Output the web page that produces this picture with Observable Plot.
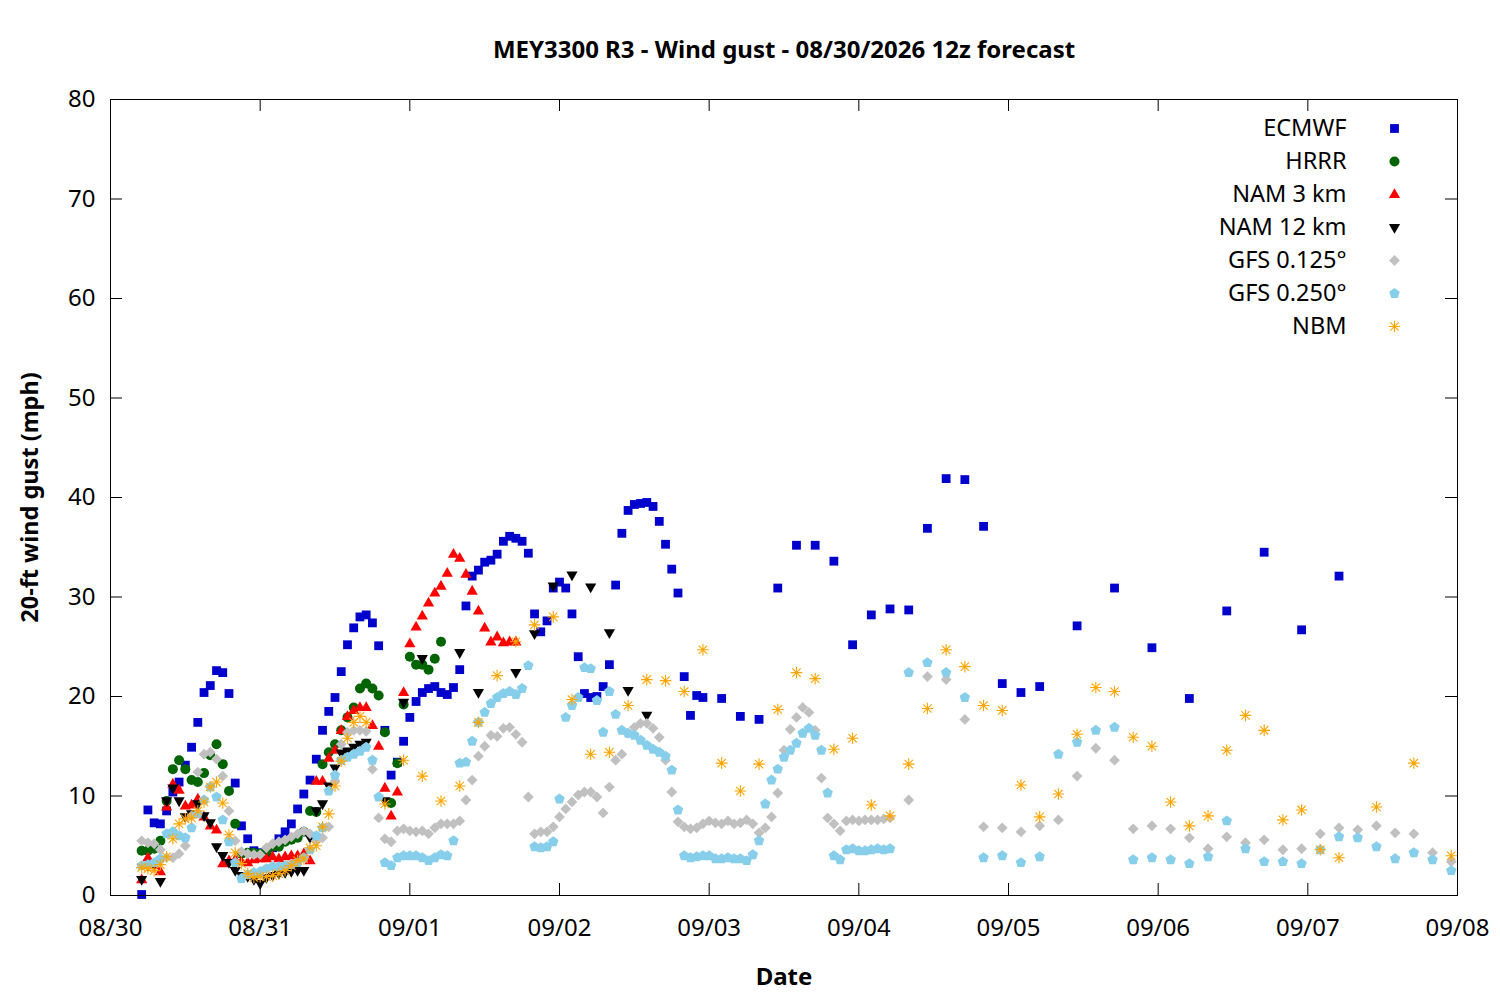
<!DOCTYPE html>
<html><head><meta charset="utf-8">
<script src="https://cdn.jsdelivr.net/npm/d3@7"></script>
<script src="https://cdn.jsdelivr.net/npm/@observablehq/plot@0.6"></script>
<style>body{margin:0;background:#fff;} svg{font-family:"Noto Sans",sans-serif;}</style>
</head><body><div id="chart"></div>
<script>
// ---- text ----
const titleText = "MEY3300 R3 - Wind gust - 08/30/2026 12z forecast";
const xLabel = "Date";
const yLabel = "20-ft wind gust (mph)";
const xTickLabels = ["08/30","08/31","09/01","09/02","09/03","09/04","09/05","09/06","09/07","09/08"];
const yTicks = [0,10,20,30,40,50,60,70,80];
const models = ["ECMWF","HRRR","NAM 3 km","NAM 12 km","GFS 0.125°","GFS 0.250°","NBM"];
const colors = ["#0000cd","#006400","#ff0000","#000000","#c0c0c0","#87ceeb","#ffa500"];

// ---- values (mph); times are local hours after 08/30 00:00 (first = 05:00 = 12z) ----
const ecmwf1h = [0.1,8.6,7.3,7.2,8.5,10.4,11.4,13.1,14.9,17.4,
 20.4,21.1,22.6,22.4,20.3,11.3,7.0,5.7,4.5,4.3,
 4.2,4.8,5.7,6.4,7.2,8.7,10.2,11.6,13.7,16.6,
 18.5,19.9,22.5,25.2,26.9,28.0,28.2,27.4,25.1,16.6,
 12.1,13.4,15.5,17.9,19.5,20.4,20.8,21.0,20.4,20.2,
 20.9,22.7,29.1,32.1,32.7,33.5,33.7,34.3,35.6,36.1,
 35.9,35.6,34.4,28.3,26.5,27.6,30.9,31.5,30.9,28.3,
 24.0,20.3,19.9,20.0,21.0,23.2,31.2,36.4,38.7,39.3,
 39.4,39.5,39.1,37.6,35.3,32.8,30.4,22.0,18.1,20.1,
 19.9];
const ecmwf3h = [19.8,18.0,17.7,30.9,35.2,35.2,33.6,25.2,28.2,28.8,28.7,36.9,41.9,41.8,37.1,21.3,20.4,21.0];
const ecmwf6h = [27.1,30.9,24.9,19.8,28.6,34.5,26.7,32.1];

const hrrr1h = [4.5,4.5,4.7,5.5,9.5,12.7,13.6,12.7,11.6,11.4,
 12.3,14.1,15.2,13.2,10.5,7.2,4.2,4.3,4.3,4.2,
 4.4,4.9,4.9,5.4,5.6,5.8,6.4,8.5,8.4,13.2,
 14.4,15.2,16.6,17.9,18.9,20.8,21.3,20.8,20.1,16.4,
 9.3,13.3,19.2,24.0,23.2,23.2,22.7,23.8,25.5];

const nam3_1h = [1.6,3.8,3.0,2.4,8.9,11.2,10.6,9.0,9.1,9.7,
 7.9,7.0,6.6,3.2,3.5,3.6,3.4,3.3,3.6,3.7,
 3.7,3.9,3.7,3.9,4.0,4.0,4.2,3.5,11.5,11.5,
 13.8,14.6,16.6,18.0,18.6,18.9,18.9,17.1,15.0,10.8,
 8.0,10.4,20.4,25.3,27.0,28.1,29.4,30.4,31.1,32.4,
 34.3,33.9,32.3,30.6,28.6,26.9,25.5,26.0,25.4,25.5,25.5];

const nam12_1h = [1.6,3.0,3.2,1.4,9.5,10.8,9.5,7.9,8.2,9.2,
 8.0,7.3,4.9,4.0,3.3,2.5,2.0,1.9,1.6,1.2,
 1.8,2.0,2.2,2.3,2.4,2.5,2.5,5.8,8.5,9.2,
 11.0,12.8,14.3,14.5,14.9,15.2,15.4];
const nam12_3h = [9.5,19.4,23.8,null,24.4,20.4,null,22.4,26.3,31.1,32.2,31.0,26.4,20.6,18.1];

const gfs125_1h = [5.5,5.3,5.2,4.6,3.8,3.8,4.2,5.0,8.0,12.4,
 14.2,14.4,13.7,12.0,8.5,5.5,4.4,4.2,4.1,4.1,
 4.8,5.2,5.4,5.6,5.9,6.2,6.5,6.2,5.5,5.8,
 6.9,11.5,15.2,16.4,16.6,16.6,16.5,12.7,7.8,5.7,
 5.4,6.5,6.7,6.5,6.4,6.5,6.2,6.8,7.2,7.2,
 7.2,7.5,9.6,11.6,14.0,15.0,16.1,16.0,16.8,16.9,
 16.2,15.4,9.9,6.2,6.4,6.4,6.9,7.9,8.7,9.4,
 10.1,10.4,10.4,9.9,8.3,10.9,13.6,14.2,16.3,16.9,
 17.3,17.3,16.8,15.9,13.6,10.4,7.4,6.9,6.7,6.8,
 7.2,7.5,7.3,7.2,7.5,7.2,7.3,7.6,7.2,6.3,
 6.8,7.9,10.3,14.6,16.7,17.9,18.9,18.4,16.6,11.8,
 7.8,7.2,6.5,7.5,7.6,7.5,7.6,7.6,7.6,7.7,7.8];
const gfs125_3h = [9.6,22.0,21.7,17.7,6.9,6.8,6.4,7.0,7.6,12.0,
 14.8,13.6,6.7,7.0,6.7,5.8,4.7,5.9,5.3,5.6,
 4.6,4.7,6.2,6.8,6.6,7.0,6.3,6.2,4.3,3.4];

const gfs250_1h = [3.0,3.1,3.3,3.7,6.2,6.4,6.0,5.8,6.8,8.2,
 9.6,10.9,9.9,7.6,5.4,3.3,1.7,2.1,2.3,2.4,
 2.7,2.9,2.9,3.0,3.1,3.3,3.8,4.6,6.0,6.8,
 10.5,12.1,13.6,13.9,14.2,14.5,14.9,13.6,9.9,3.3,
 3.0,3.8,4.0,4.0,4.0,3.8,3.5,3.8,4.1,4.0,
 5.5,13.3,13.4,15.5,17.4,18.4,19.3,19.9,20.3,20.5,
 20.2,20.8,23.1,4.9,4.8,4.9,5.4,9.7,17.9,19.1,
 19.9,22.9,22.8,19.6,16.4,20.5,18.2,16.6,16.3,16.1,
 15.6,15.1,14.7,14.4,14.0,12.6,8.6,4.0,3.8,3.9,
 4.0,4.0,3.7,3.7,3.8,3.7,3.7,3.5,4.1,5.5,
 9.2,11.6,12.7,13.9,14.6,15.3,16.3,16.8,16.1,14.6,
 10.3,4.0,3.6,4.6,4.7,4.5,4.5,4.6,4.7,4.6,4.7];
const gfs250_3h = [22.4,23.4,22.4,19.9,3.8,4.0,3.3,3.9,14.2,15.4,
 16.6,16.9,3.6,3.8,3.6,3.2,3.9,7.5,4.7,3.4,
 3.4,3.2,4.6,5.9,5.8,4.9,3.7,4.3,3.6,2.5];

const nbm1h = [2.8,2.7,2.5,3.1,3.9,5.7,7.2,7.7,7.8,8.5,
 9.4,10.9,11.4,9.3,6.1,4.3,3.2,2.2,1.8,1.9,
 1.9,2.0,2.2,2.5,3.0,3.5,3.7,4.8,5.0,6.9,
 8.2,11.0,13.5,15.8,17.4,18.0,17.4];
const nbm3h = [9.2,13.6,12.0,9.5,11.0,17.4,22.1,25.5,27.2,28.0,
 19.7,14.2,14.4,19.1,21.7,21.6,20.5,24.7,13.3,10.5,
 13.2,18.7,22.4,21.8,14.7,15.8,9.1,8.0,13.2,18.8,
 24.7,23.0,19.1,18.6,11.1,7.9,10.2,16.2,20.9,20.5,
 15.9,15.0,9.4,7.0,8.0,14.6,18.1,16.6,7.6,8.6,
 4.6,3.8];
const nbm6h = [8.9,13.3,4.0];

// segments: [first local hour, step in hours, values]
const schedules = [
  [[5,1,ecmwf1h],[98,3,ecmwf3h],[155,6,ecmwf6h]],
  [[5,1,hrrr1h]],
  [[5,1,nam3_1h]],
  [[5,1,nam12_1h],[44,3,nam12_3h]],
  [[5,1,gfs125_1h],[128,3,gfs125_3h]],
  [[5,1,gfs250_1h],[128,3,gfs250_3h]],
  [[5,1,nbm1h],[44,3,nbm3h],[203,6,nbm6h]]
];

const base = Date.UTC(2026, 7, 30);
function rowsFor(segs) {
  const out = [];
  for (const [start, step, values] of segs)
    values.forEach((v, i) => { if (v != null) out.push({t: new Date(base + (start + i * step) * 3600e3), v}); });
  return out;
}

// ---- point symbols (gnuplot-like) ----
const sym = f => ({draw(c) { f(c); }});
const symbols = [
  sym(c => { c.rect(-4.4, -4.4, 8.8, 8.8); }),
  sym(c => { c.moveTo(5, 0); c.arc(0, 0, 5, 0, 2 * Math.PI); }),
  sym(c => { c.moveTo(0, -6.2); c.lineTo(5.6, 3.6); c.lineTo(-5.6, 3.6); c.closePath(); }),
  sym(c => { c.moveTo(0, 6.2); c.lineTo(5.6, -3.6); c.lineTo(-5.6, -3.6); c.closePath(); }),
  sym(c => { c.moveTo(0, -5.4); c.lineTo(5.4, 0); c.lineTo(0, 5.4); c.lineTo(-5.4, 0); c.closePath(); }),
  sym(c => { for (let k = 0; k < 5; k++) { const a = -Math.PI / 2 + k * 2 * Math.PI / 5; const x = 5.5 * Math.cos(a), y = 5.5 * Math.sin(a); if (k) c.lineTo(x, y); else c.moveTo(x, y); } c.closePath(); }),
  sym(c => { const r = 5.8, d = r * 0.72; c.moveTo(-r, 0); c.lineTo(r, 0); c.moveTo(0, -r); c.lineTo(0, r); c.moveTo(-d, -d); c.lineTo(d, d); c.moveTo(-d, d); c.lineTo(d, -d); })
];
const isStroke = i => i === 6;

const W = 1500, H = 1000, mL = 110, mR = 43, mT = 99, mB = 105;
const plotW = W - mL - mR, plotH = H - mT - mB;
const xTicks = xTickLabels.map(s => new Date(Date.UTC(2026, +s.slice(0, 2) - 1, +s.slice(3, 5))));
const fmt = d3.utcFormat("%m/%d");
const FS = 24;

const marks = [];
// inward mirrored ticks
marks.push(Plot.tickX(xTicks, {x: d => d, stroke: "black", insetTop: plotH - 12}));
marks.push(Plot.tickX(xTicks, {x: d => d, stroke: "black", insetBottom: plotH - 12}));
marks.push(Plot.tickY(yTicks, {y: d => d, stroke: "black", insetRight: plotW - 12}));
marks.push(Plot.tickY(yTicks, {y: d => d, stroke: "black", insetLeft: plotW - 12}));
marks.push(Plot.axisX(xTicks, {tickSize: 0, tickPadding: 23, tickFormat: fmt, fontSize: FS, label: null}));
marks.push(Plot.axisY(yTicks, {tickSize: 0, tickPadding: 15, fontSize: FS, label: null}));

schedules.forEach((segs, i) => {
  marks.push(Plot.dot(rowsFor(segs), {
    x: "t", y: "v", symbol: symbols[i], r: 5,
    fill: isStroke(i) ? "none" : colors[i],
    stroke: isStroke(i) ? colors[i] : "none",
    strokeWidth: 1.1
  }));
});

// legend
models.forEach((name, i) => {
  marks.push(Plot.text([name], {text: d => d, frameAnchor: "top-right", dx: -111, dy: 29 + 33 * i, textAnchor: "end", lineAnchor: "middle", fontSize: 23.5, fill: "black"}));
  marks.push(Plot.dot([name], {frameAnchor: "top-right", dx: -63, dy: 29 + 33 * i, symbol: symbols[i], r: 5,
    fill: isStroke(i) ? "none" : colors[i], stroke: isStroke(i) ? colors[i] : "none", strokeWidth: 1.1}));
});

marks.push(Plot.frame({stroke: "black", strokeWidth: 1}));
marks.push(Plot.text([titleText], {text: d => d, frameAnchor: "top", dy: -49, lineAnchor: "middle", textAnchor: "middle", fontWeight: "bold", fontSize: FS, fill: "black"}));
marks.push(Plot.text([xLabel], {text: d => d, frameAnchor: "bottom", dy: 82, lineAnchor: "middle", textAnchor: "middle", fontWeight: "bold", fontSize: FS, fill: "black"}));
marks.push(Plot.text([yLabel], {text: d => d, frameAnchor: "left", dx: -80, rotate: -90, lineAnchor: "middle", textAnchor: "middle", fontWeight: "bold", fontSize: 23.5, fill: "black"}));

const chart = Plot.plot({
  width: W, height: H,
  marginLeft: mL, marginRight: mR, marginTop: mT, marginBottom: mB,
  style: {fontFamily: "Noto Sans", fontSize: FS + "px", background: "white", overflow: "visible", color: "black"},
  x: {type: "utc", domain: [new Date(base), new Date(Date.UTC(2026, 8, 8))]},
  y: {domain: [0, 80]},
  marks
});
document.getElementById("chart").appendChild(chart);
</script>
</body></html>
